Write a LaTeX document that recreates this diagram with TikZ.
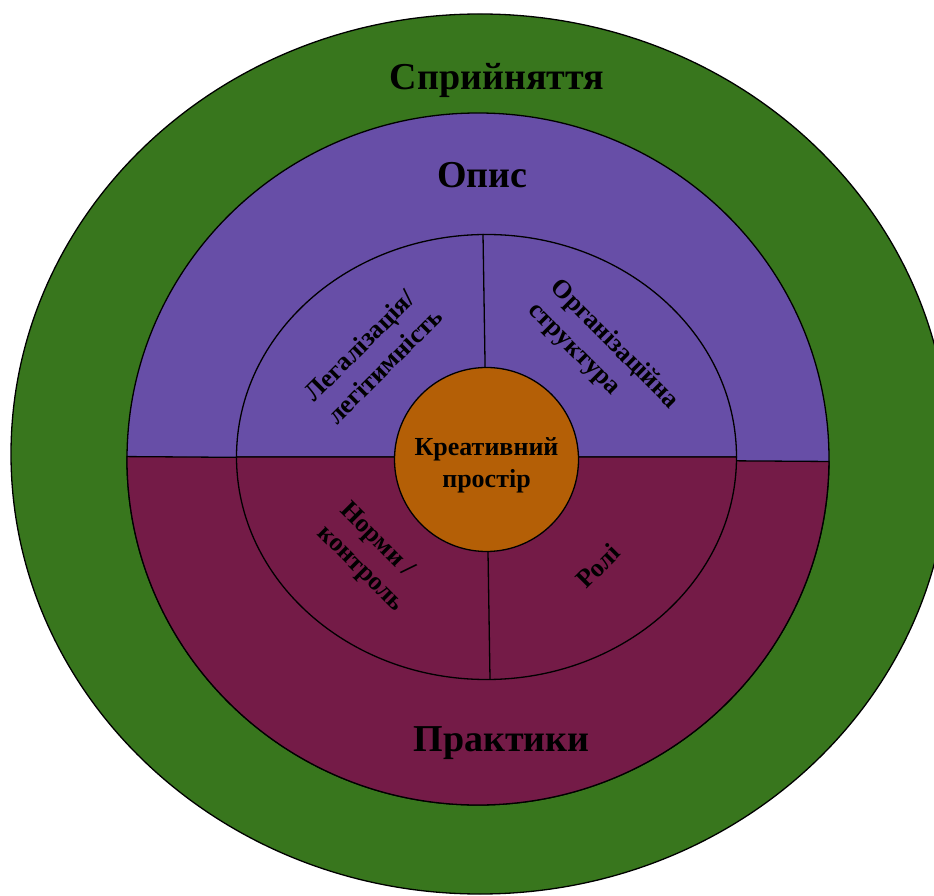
\documentclass[tikz,border=0pt]{standalone}
\usepackage{fontspec}
\setmainfont{Liberation Serif}
\usepackage{tikz}
\usetikzlibrary{calc}
\definecolor{perception}{HTML}{38761D}
\definecolor{description}{HTML}{674EA7}
\definecolor{practice}{HTML}{741B47}
\definecolor{core}{HTML}{B45F06}
\tikzset{
  ring/.style={draw=black, line width=1.3pt},
  ringlabel/.style={font=\fontsize{38}{46}\selectfont\bfseries, anchor=base},
  seglabel/.style={font=\fontsize{26}{32}\selectfont\bfseries, align=left, inner sep=0pt},
  corebox/.style={circle, ring, fill=core, minimum size=184pt, inner sep=0pt},
  coretext/.style={seglabel, align=center}
}
\begin{document}
\begin{tikzpicture}[x=1pt, y=1pt]
    \useasboundingbox (0,0) rectangle (934,895);
    \clip (0,0) rectangle (934,895);
    \coordinate (outer) at (480,441);
    \coordinate (middle) at (478,436);
    \coordinate (inner) at (486.5,438);
    \coordinate (segtop) at (483,661);
    \coordinate (segbot) at (490,216);
    \draw[ring, fill=perception] (outer) ellipse[x radius=469, y radius=440];
    \draw[ring, fill=description] (middle) ellipse[x radius=351, y radius=346];
    \draw[ring, fill=practice, rotate around={-0.4:(middle)}] ($(middle)+(351,0)$)
      arc[start angle=0, end angle=-180, x radius=351, y radius=346] -- cycle;
    \draw[ring, fill=description] ($(inner)+(-250,0)$)
      arc[start angle=180, end angle=0, x radius=250, y radius=222.5] -- cycle;
    \draw[ring, fill=practice] ($(inner)+(250,0)$)
      arc[start angle=0, end angle=-180, x radius=250, y radius=222.5] -- cycle;
    \draw[ring] (segtop) -- (segbot);
    \node[corebox] (space) at (486.5,435.5) {};
    \node[coretext] (spacetext) at ($(space.center)+(0,-5.5)$) {Креативний\\простір};
    \node[ringlabel] (perc) at (497,805) {Сприйняття};
    \node[ringlabel] (desc) at (482.5,707) {Опис};
    \node[ringlabel] (prac) at (501.5,144) {Практики};
    \node[seglabel, rotate=45] (legal) at (373,540.5) {Легалізація/\\легітимність};
    \node[seglabel, rotate=-45] (org) at (603,539) {Організаційна\\структура};
    \node[seglabel, rotate=-45] (norms) at (371.5,337) {Норми /\\контроль};
    \node[seglabel, rotate=45] (roles) at (598,329) {Ролі};
\end{tikzpicture}
\end{document}
